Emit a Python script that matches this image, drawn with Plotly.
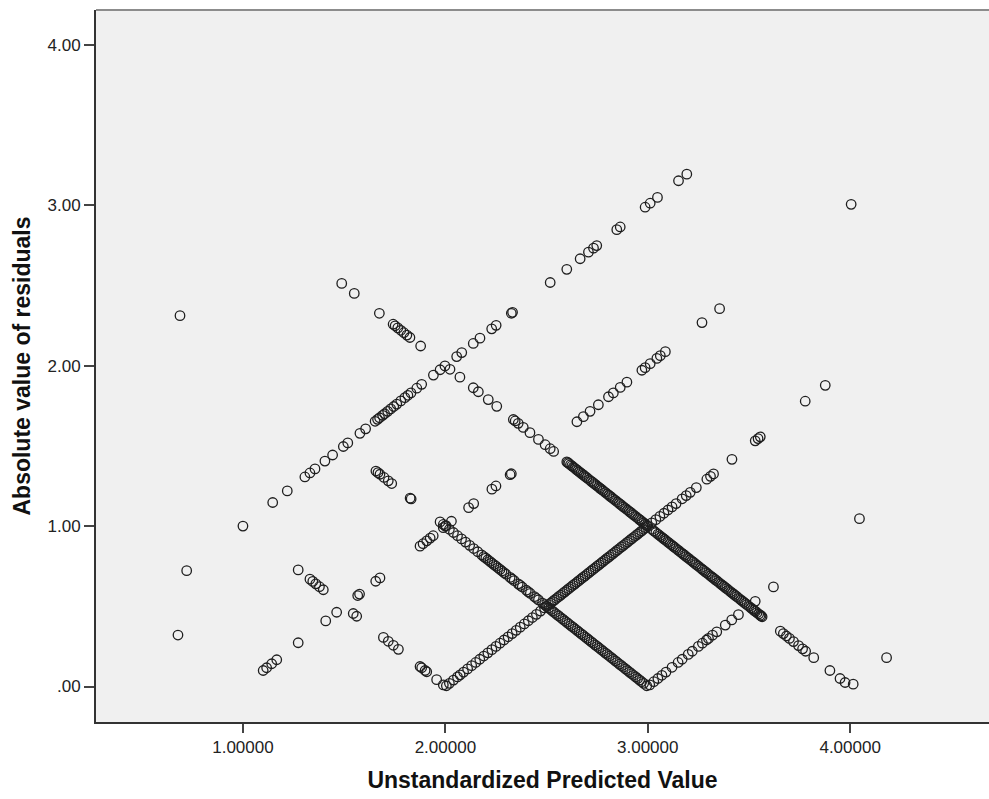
import plotly.graph_objects as go

# ---- data ----
# observed category 0 : |0 - predicted|
x_obs0 = [0.722, 1.000, 1.147, 1.219, 1.306, 1.331, 1.356, 1.405, 1.443, 1.496, 1.518, 1.578,
          1.606, 1.653, 1.665, 1.675, 1.690, 1.700, 1.715, 1.730, 1.745, 1.760, 1.780, 1.800,
          1.815, 1.830, 1.859, 1.883, 1.941, 1.974, 1.998, 2.056, 2.081, 2.138, 2.171, 2.229,
          2.251, 2.326, 2.332, 2.518, 2.600, 2.666, 2.707, 2.732, 2.748, 2.847, 2.864, 2.987,
          3.012, 3.048, 3.152, 3.193]
y_obs0 = [0.722, 1.000, 1.147, 1.219, 1.306, 1.331, 1.356, 1.405, 1.443, 1.496, 1.518, 1.578,
          1.606, 1.653, 1.665, 1.675, 1.690, 1.700, 1.715, 1.730, 1.745, 1.760, 1.780, 1.800,
          1.815, 1.830, 1.859, 1.883, 1.941, 1.974, 1.998, 2.056, 2.081, 2.138, 2.171, 2.229,
          2.251, 2.326, 2.332, 2.518, 2.600, 2.666, 2.707, 2.732, 2.748, 2.847, 2.864, 2.987,
          3.012, 3.048, 3.152, 3.193]

# observed category 1
x_obs1 = [0.679, 1.100, 1.117, 1.142, 1.167, 1.273, 1.409, 1.463, 1.567, 1.576, 1.656, 1.677,
          1.875, 1.890, 1.908, 1.925, 1.940, 1.990, 2.003, 2.030, 2.115, 2.140, 2.230, 2.250,
          2.320, 2.326, 2.650, 2.682, 2.715, 2.756, 2.806, 2.830, 2.864, 2.897, 2.971, 2.987,
          3.012, 3.045, 3.062, 3.087, 3.268, 3.355, 4.005]
y_obs1 = [0.321, 0.100, 0.117, 0.142, 0.167, 0.273, 0.409, 0.463, 0.567, 0.576, 0.656, 0.677,
          0.875, 0.890, 0.908, 0.925, 0.940, 0.990, 1.003, 1.030, 1.115, 1.140, 1.230, 1.250,
          1.320, 1.326, 1.650, 1.682, 1.715, 1.756, 1.806, 1.830, 1.864, 1.897, 1.971, 1.987,
          2.012, 2.045, 2.062, 2.087, 2.268, 2.355, 3.005]

# observed category 2
x_obs2 = [1.273, 1.331, 1.345, 1.360, 1.378, 1.397, 1.545, 1.562, 1.694, 1.718, 1.743, 1.768,
          1.875, 1.883, 1.900, 1.908, 1.957, 1.990,
          2.005, 2.020, 2.040, 2.060, 2.073, 2.090, 2.110, 2.130, 2.150, 2.170, 2.190, 2.210,
          2.230, 2.250, 2.270, 2.290, 2.310, 2.330, 2.350, 2.370, 2.390, 2.410, 2.430, 2.450,
          2.470, 2.490, 2.500, 2.510, 2.520, 2.540, 2.560, 2.580, 2.600, 2.620, 2.640, 2.660,
          2.680, 2.700, 2.720, 2.740, 2.760, 2.780, 2.800, 2.820, 2.840, 2.860, 2.880, 2.900,
          2.920, 2.940, 2.960, 2.980, 3.000, 3.020, 3.040, 3.060, 3.080, 3.100, 3.120, 3.140,
          3.170, 3.190, 3.210, 3.240, 3.292, 3.310, 3.325, 3.416, 3.531, 3.545, 3.556, 3.778,
          3.877,
          2.530, 2.550, 2.570, 2.590, 2.610, 2.630, 2.650, 2.670, 2.690, 2.710, 2.730, 2.750,
          2.770, 2.790, 2.810, 2.830, 2.850, 2.870, 2.890, 2.910, 2.930, 2.950, 2.970, 2.990]
y_obs2 = [0.727, 0.669, 0.655, 0.640, 0.622, 0.603, 0.455, 0.438, 0.306, 0.282, 0.257, 0.232,
          0.125, 0.117, 0.100, 0.092, 0.043, 0.010,
          0.005, 0.020, 0.040, 0.060, 0.073, 0.090, 0.110, 0.130, 0.150, 0.170, 0.190, 0.210,
          0.230, 0.250, 0.270, 0.290, 0.310, 0.330, 0.350, 0.370, 0.390, 0.410, 0.430, 0.450,
          0.470, 0.490, 0.500, 0.510, 0.520, 0.540, 0.560, 0.580, 0.600, 0.620, 0.640, 0.660,
          0.680, 0.700, 0.720, 0.740, 0.760, 0.780, 0.800, 0.820, 0.840, 0.860, 0.880, 0.900,
          0.920, 0.940, 0.960, 0.980, 1.000, 1.020, 1.040, 1.060, 1.080, 1.100, 1.120, 1.140,
          1.170, 1.190, 1.210, 1.240, 1.292, 1.310, 1.325, 1.416, 1.531, 1.545, 1.556, 1.778,
          1.877,
          0.530, 0.550, 0.570, 0.590, 0.610, 0.630, 0.650, 0.670, 0.690, 0.710, 0.730, 0.750,
          0.770, 0.790, 0.810, 0.830, 0.850, 0.870, 0.890, 0.910, 0.930, 0.950, 0.970, 0.990]

# observed category 3
x_obs3 = [0.689, 1.657, 1.667, 1.677, 1.697, 1.718, 1.735, 1.826, 1.831,
          1.974, 1.990, 2.000, 2.020, 2.040, 2.060, 2.080, 2.100, 2.120, 2.140, 2.160, 2.180,
          2.200, 2.220, 2.240, 2.260, 2.280, 2.300, 2.320, 2.340, 2.360, 2.380, 2.400, 2.420,
          2.440, 2.460, 2.480, 2.500, 2.520, 2.540, 2.560, 2.580, 2.600, 2.620, 2.640, 2.660,
          2.680, 2.700, 2.720, 2.740, 2.760, 2.770, 2.780, 2.800, 2.820, 2.840, 2.860, 2.880,
          2.900, 2.920, 2.940, 2.960, 2.980, 2.995,
          3.010, 3.030, 3.050, 3.070, 3.090, 3.120, 3.150, 3.170, 3.200, 3.220, 3.250, 3.270,
          3.290, 3.300, 3.320, 3.341, 3.383, 3.415, 3.448, 3.531, 3.621, 4.046,
          2.190, 2.210, 2.230, 2.250, 2.270, 2.290, 2.330, 2.370, 2.410, 2.450,
          2.490, 2.510, 2.530, 2.550, 2.570, 2.590, 2.610, 2.630, 2.650, 2.670, 2.690, 2.710,
          2.730, 2.750, 2.790, 2.810, 2.830, 2.850, 2.870, 2.890, 2.910, 2.930, 2.950, 2.970]
y_obs3 = [2.311, 1.343, 1.333, 1.323, 1.303, 1.282, 1.265, 1.174, 1.169,
          1.026, 1.010, 1.000, 0.980, 0.960, 0.940, 0.920, 0.900, 0.880, 0.860, 0.840, 0.820,
          0.800, 0.780, 0.760, 0.740, 0.720, 0.700, 0.680, 0.660, 0.640, 0.620, 0.600, 0.580,
          0.560, 0.540, 0.520, 0.500, 0.480, 0.460, 0.440, 0.420, 0.400, 0.380, 0.360, 0.340,
          0.320, 0.300, 0.280, 0.260, 0.240, 0.230, 0.220, 0.200, 0.180, 0.160, 0.140, 0.120,
          0.100, 0.080, 0.060, 0.040, 0.020, 0.005,
          0.010, 0.030, 0.050, 0.070, 0.090, 0.120, 0.150, 0.170, 0.200, 0.220, 0.250, 0.270,
          0.290, 0.300, 0.320, 0.341, 0.383, 0.415, 0.448, 0.531, 0.621, 1.046,
          0.810, 0.790, 0.770, 0.750, 0.730, 0.710, 0.670, 0.630, 0.590, 0.550,
          0.510, 0.490, 0.470, 0.450, 0.430, 0.410, 0.390, 0.370, 0.350, 0.330, 0.310, 0.290,
          0.270, 0.250, 0.210, 0.190, 0.170, 0.150, 0.130, 0.110, 0.090, 0.070, 0.050, 0.030]

# observed category 4
x_obs4 = [1.488, 1.550, 1.674, 1.742, 1.752, 1.765, 1.780, 1.795, 1.810, 1.825, 1.878, 2.023,
          2.072, 2.138, 2.163, 2.212, 2.254, 2.336, 2.345, 2.360, 2.385, 2.418, 2.460, 2.493,
          2.518, 2.535,
          2.600, 2.610, 2.625, 2.640, 2.655, 2.670, 2.685, 2.700, 2.720, 2.735, 2.750, 2.765,
          2.780, 2.800, 2.815, 2.830, 2.850, 2.865, 2.880, 2.900, 2.915, 2.930, 2.950, 2.965,
          2.980, 2.995,
          3.020, 3.040, 3.060, 3.075, 3.090, 3.110, 3.125, 3.140, 3.160, 3.175, 3.190, 3.210,
          3.225, 3.240, 3.260, 3.275, 3.290, 3.310, 3.325, 3.340, 3.360, 3.375, 3.390, 3.410,
          3.425, 3.440, 3.460, 3.475, 3.490, 3.510, 3.525, 3.540, 3.555, 3.565,
          3.655, 3.670, 3.685, 3.700, 3.720, 3.745, 3.765, 3.780, 3.820, 3.900, 3.950, 3.975,
          4.015, 4.180,
          2.605, 2.618, 2.632, 2.648, 2.662, 2.678, 2.692, 2.710, 2.728, 2.742, 2.758, 2.772,
          2.790, 2.808, 2.822, 2.840, 2.858, 2.872, 2.890, 2.908, 2.922, 2.940, 2.958, 2.972,
          2.988, 3.030, 3.050, 3.068, 3.082, 3.100, 3.118, 3.132, 3.150, 3.168, 3.182, 3.200,
          3.218, 3.232, 3.250, 3.268, 3.282, 3.300, 3.318, 3.332, 3.350, 3.368, 3.382, 3.400,
          3.418, 3.432, 3.450, 3.468, 3.482, 3.500, 3.518, 3.532, 3.548, 3.560]
y_obs4 = [2.512, 2.450, 2.326, 2.258, 2.248, 2.235, 2.220, 2.205, 2.190, 2.175, 2.122, 1.977,
          1.928, 1.862, 1.837, 1.788, 1.746, 1.664, 1.655, 1.640, 1.615, 1.582, 1.540, 1.507,
          1.482, 1.465,
          1.400, 1.390, 1.375, 1.360, 1.345, 1.330, 1.315, 1.300, 1.280, 1.265, 1.250, 1.235,
          1.220, 1.200, 1.185, 1.170, 1.150, 1.135, 1.120, 1.100, 1.085, 1.070, 1.050, 1.035,
          1.020, 1.005,
          0.980, 0.960, 0.940, 0.925, 0.910, 0.890, 0.875, 0.860, 0.840, 0.825, 0.810, 0.790,
          0.775, 0.760, 0.740, 0.725, 0.710, 0.690, 0.675, 0.660, 0.640, 0.625, 0.610, 0.590,
          0.575, 0.560, 0.540, 0.525, 0.510, 0.490, 0.475, 0.460, 0.445, 0.435,
          0.345, 0.330, 0.315, 0.300, 0.280, 0.255, 0.235, 0.220, 0.180, 0.100, 0.050, 0.025,
          0.015, 0.180,
          1.395, 1.382, 1.368, 1.352, 1.338, 1.322, 1.308, 1.290, 1.272, 1.258, 1.242, 1.228,
          1.210, 1.192, 1.178, 1.160, 1.142, 1.128, 1.110, 1.092, 1.078, 1.060, 1.042, 1.028,
          1.012, 0.970, 0.950, 0.932, 0.918, 0.900, 0.882, 0.868, 0.850, 0.832, 0.818, 0.800,
          0.782, 0.768, 0.750, 0.732, 0.718, 0.700, 0.682, 0.668, 0.650, 0.632, 0.618, 0.600,
          0.582, 0.568, 0.550, 0.532, 0.518, 0.500, 0.482, 0.468, 0.452, 0.440]

x_tick_vals = [1, 2, 3, 4]
x_tick_text = ["1.00000", "2.00000", "3.00000", "4.00000"]
y_tick_vals = [0, 1, 2, 3, 4]
y_tick_text = [".00", "1.00", "2.00", "3.00", "4.00"]

x_title = "Unstandardized Predicted Value"
y_title = "Absolute value of residuals"

# ---- figure ----
fig = go.Figure()
for xs, ys in [(x_obs0, y_obs0), (x_obs1, y_obs1), (x_obs2, y_obs2),
               (x_obs3, y_obs3), (x_obs4, y_obs4)]:
    fig.add_trace(go.Scatter(
        x=xs, y=ys, mode="markers", showlegend=False, hoverinfo="x+y",
        marker=dict(symbol="circle-open", size=9.5, color="#1e1e1e",
                    line=dict(width=1.3, color="#1e1e1e"))))

tick_font = dict(family="Liberation Sans, Arial, sans-serif", size=17, color="#222222")
title_font = dict(family="Liberation Sans, Arial, sans-serif", size=23, color="#111111",
                  weight="bold")

fig.update_layout(
    width=989, height=799,
    margin=dict(l=96, r=0, t=10, b=77, autoexpand=False),
    paper_bgcolor="white", plot_bgcolor="#f0f0f0",
    xaxis=dict(range=[0.274, 4.686], tickvals=x_tick_vals, ticktext=x_tick_text,
               showgrid=False, zeroline=False, showline=True, linecolor="#333333",
               linewidth=2, ticks="outside", ticklen=9, tickwidth=2, tickcolor="#444444",
               tickfont=tick_font, automargin=False,
               title=dict(text=x_title, font=title_font, standoff=15)),
    yaxis=dict(range=[-0.221, 4.216], tickvals=y_tick_vals, ticktext=y_tick_text,
               showgrid=False, zeroline=False, showline=True, linecolor="#333333",
               linewidth=2, ticks="outside", ticklen=10, tickwidth=2, tickcolor="#444444",
               tickfont=tick_font, automargin=False,
               title=dict(text=y_title, font=title_font, standoff=10)),
    shapes=[dict(type="line", xref="paper", yref="paper", x0=0, x1=1, y0=1, y1=1,
                 line=dict(color="#8c8c8c", width=2))],
)

fig.write_html("out.html", config={"displayModeBar": False},
               post_script="document.body.style.margin='0';document.body.style.overflow='hidden';")
